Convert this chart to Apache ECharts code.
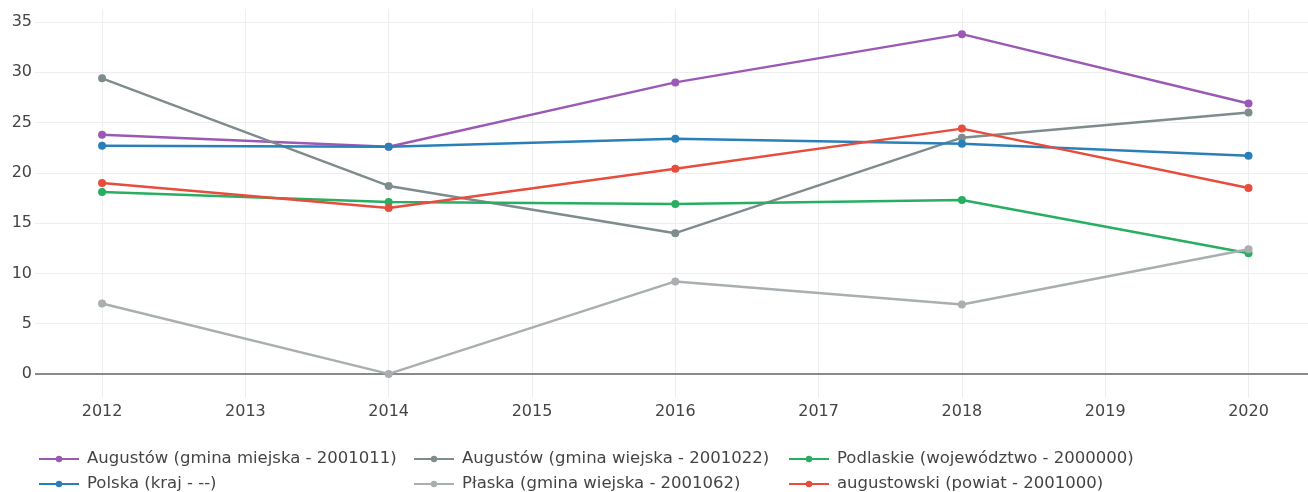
<!DOCTYPE html>
<html>
<head>
<meta charset="utf-8">
<script src="https://cdn.jsdelivr.net/npm/echarts@6/dist/echarts.min.js"></script>
<style>
  html, body { margin: 0; padding: 0; background: #fff; }
  #chart { width: 1308px; height: 492px; }
</style>
</head>
<body>
<div id="chart"></div>
<script>
const years = [2012, 2014, 2016, 2018, 2020];

const augustowMiejska = [23.8, 22.6, 29.0, 33.8, 26.9];
const augustowWiejska = [29.4, 18.7, 14.0, 23.5, 26.0];
const podlaskie = [18.1, 17.1, 16.9, 17.3, 12.0];
const polska = [22.7, 22.6, 23.4, 22.9, 21.7];
const plaska = [7.0, 0.0, 9.2, 6.9, 12.4];
const augustowski = [19.0, 16.5, 20.4, 24.4, 18.5];

const seriesNames = [
  'Augustów (gmina miejska - 2001011)',
  'Augustów (gmina wiejska - 2001022)',
  'Podlaskie (województwo - 2000000)',
  'Polska (kraj - --)',
  'Płaska (gmina wiejska - 2001062)',
  'augustowski (powiat - 2001000)',
];
const seriesValues = [augustowMiejska, augustowWiejska, podlaskie, polska, plaska, augustowski];
const seriesColors = ['#9b59b6', '#7f8c8d', '#27ae60', '#2980b9', '#a9aeb1', '#e74c3c'];

// legend columns, read left to right in the picture
const legendColumns = [
  [seriesNames[0], seriesNames[3]],
  [seriesNames[1], seriesNames[4]],
  [seriesNames[2], seriesNames[5]],
];
const legendLefts = [33, 408, 783];

const FONT = '"DejaVu Sans", Verdana, sans-serif';

const chart = echarts.init(document.getElementById('chart'));

const series = seriesNames.map((name, i) => ({
  name: name,
  type: 'line',
  data: years.map((year, j) => [year, seriesValues[i][j]]),
  symbol: 'circle',
  symbolSize: 8,
  lineStyle: { width: 2.5, color: seriesColors[i] },
  itemStyle: { color: seriesColors[i] },
  z: 3,
}));

// zero line like plotly's zeroline
series[0].markLine = {
  silent: true,
  symbol: 'none',
  label: { show: false },
  lineStyle: { color: '#8a8a8a', width: 2, type: 'solid' },
  data: [{ yAxis: 0 }],
  z: 1,
};

const legends = legendColumns.map((names, i) => ({
  orient: 'vertical',
  left: legendLefts[i],
  top: 445,
  height: 80,
  itemWidth: 40,
  itemHeight: 8,
  itemGap: 7,
  textStyle: {
    fontFamily: FONT,
    fontSize: 16.5,
    lineHeight: 18,
    color: '#444',
    padding: [0, 0, 0, 3],
  },
  data: names,
}));

chart.setOption({
  animation: false,
  backgroundColor: '#fff',
  grid: { left: 35, right: 0, top: 9, bottom: 94 },
  legend: legends,
  xAxis: {
    type: 'value',
    min: 2011.532,
    max: 2020.415,
    splitNumber: 9,
    axisLine: { show: false },
    axisTick: { show: false },
    axisLabel: {
      fontFamily: FONT,
      fontSize: 16,
      color: '#444',
      margin: 6,
      showMinLabel: false,
      showMaxLabel: false,
      formatter: (v) => (Number.isInteger(v) ? String(v) : ''),
    },
    splitLine: {
      show: true,
      showMinLine: false,
      showMaxLine: false,
      lineStyle: { color: '#eeeeee', width: 1 },
    },
  },
  yAxis: {
    type: 'value',
    min: -2.4,
    max: 36.3,
    splitNumber: 8,
    axisLine: { show: false },
    axisTick: { show: false },
    axisLabel: {
      fontFamily: FONT,
      fontSize: 16,
      color: '#444',
      margin: 3,
      showMinLabel: false,
      showMaxLabel: false,
      formatter: (v) => (v % 5 === 0 ? String(v) : ''),
    },
    splitLine: {
      show: true,
      showMinLine: false,
      showMaxLine: false,
      lineStyle: { color: '#eeeeee', width: 1 },
    },
  },
  series: series,
});
</script>
</body>
</html>
